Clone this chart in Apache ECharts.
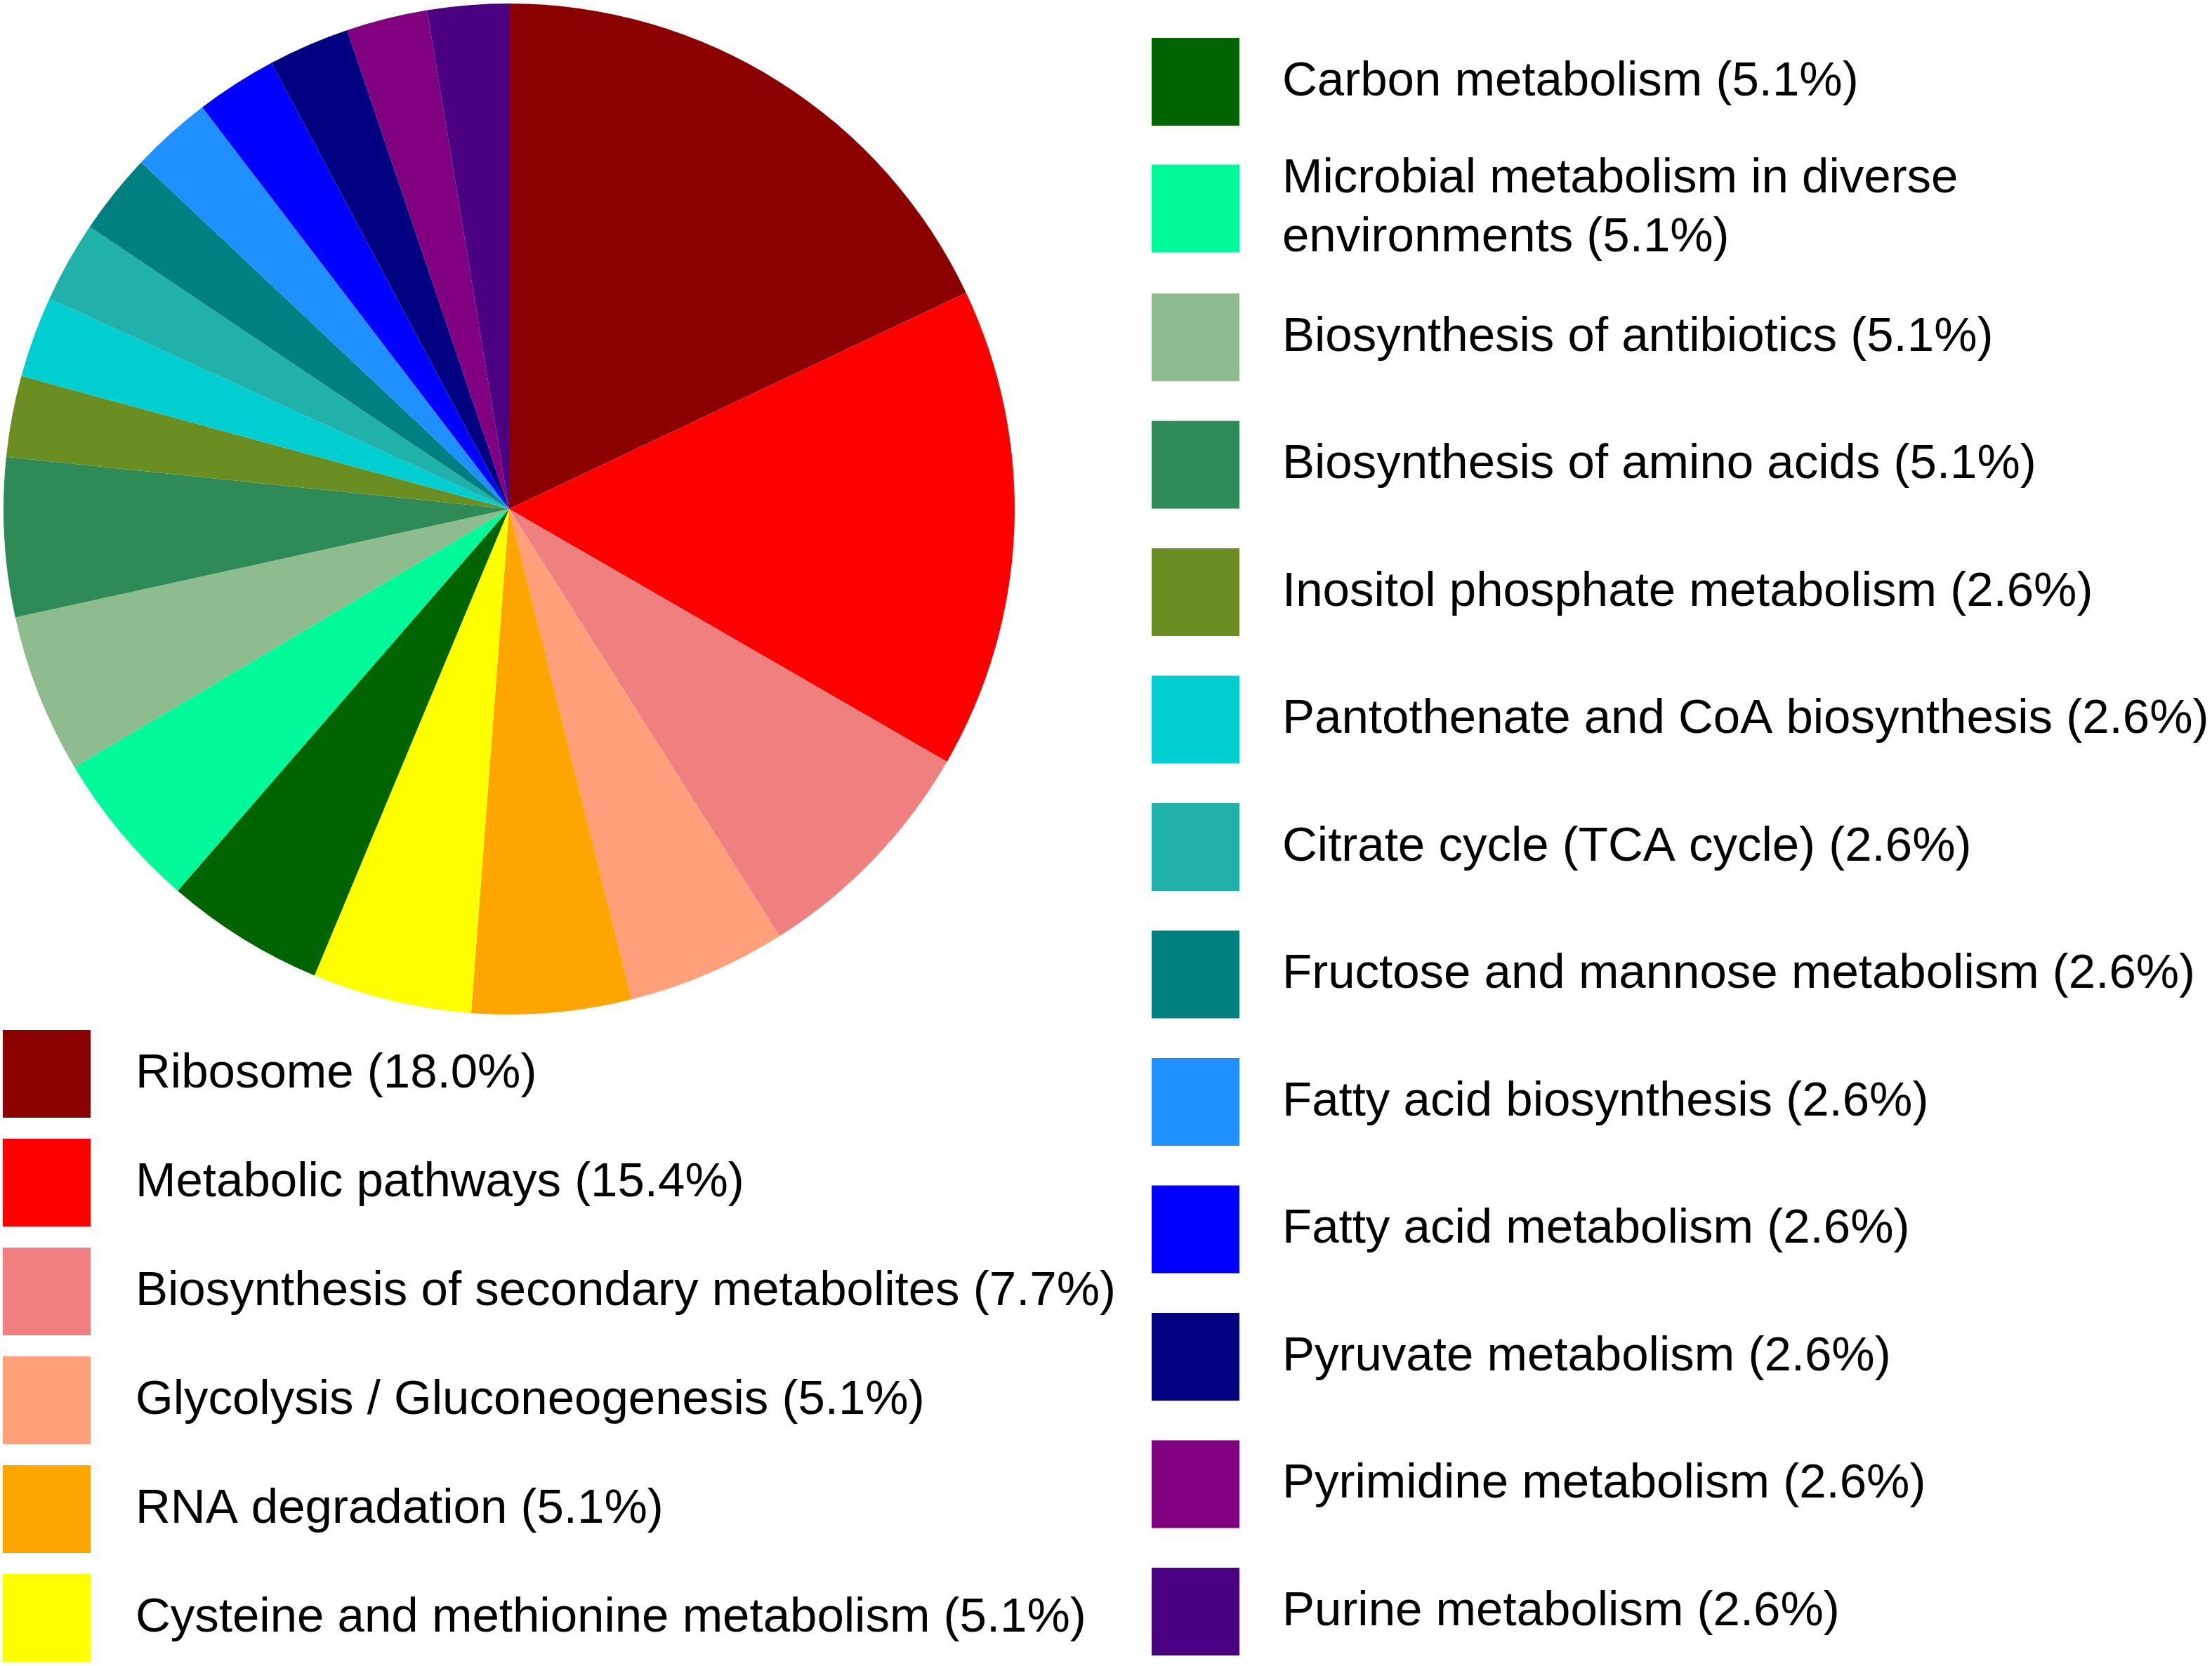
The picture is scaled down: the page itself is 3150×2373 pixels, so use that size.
<!DOCTYPE html>
<html>
<head>
<meta charset="utf-8">
<script src="https://cdn.jsdelivr.net/npm/echarts@6/dist/echarts.min.js"></script>
<style>
html,body{margin:0;padding:0;background:#fff;}
#chart{width:3150px;height:2373px;}
</style>
</head>
<body>
<div id="chart"></div>
<script>
const categories = [
  "Ribosome",
  "Metabolic pathways",
  "Biosynthesis of secondary metabolites",
  "Glycolysis / Gluconeogenesis",
  "RNA degradation",
  "Cysteine and methionine metabolism",
  "Carbon metabolism",
  "Microbial metabolism in diverse environments",
  "Biosynthesis of antibiotics",
  "Biosynthesis of amino acids",
  "Inositol phosphate metabolism",
  "Pantothenate and CoA biosynthesis",
  "Citrate cycle (TCA cycle)",
  "Fructose and mannose metabolism",
  "Fatty acid biosynthesis",
  "Fatty acid metabolism",
  "Pyruvate metabolism",
  "Pyrimidine metabolism",
  "Purine metabolism"
];
const percents = [18.0, 15.4, 7.7, 5.1, 5.1, 5.1, 5.1, 5.1, 5.1, 5.1, 2.6, 2.6, 2.6, 2.6, 2.6, 2.6, 2.6, 2.6, 2.6];
const colors = [
  "#8B0000", "#FF0000", "#F08080", "#FFA07A", "#FFA500", "#FFFF00",
  "#006400", "#00FA9A", "#8FBC8F", "#2E8B57", "#6B8E23", "#00CED1",
  "#20B2AA", "#008080", "#1E90FF", "#0000FF", "#000080", "#800080", "#4B0082"
];

const pctByName = {};
categories.forEach((c, i) => { pctByName[c] = percents[i]; });

const fontFamily = '"Liberation Sans", Arial, Helvetica, sans-serif';
const fmt = name => name + ' (' + pctByName[name].toFixed(1) + '%)';

const baseText = { fontSize: 69, color: '#000', fontFamily: fontFamily, padding: [0, 0, 0, 56] };
const baseLegend = {
  type: 'plain',
  orient: 'vertical',
  icon: 'rect',
  itemWidth: 125,
  itemHeight: 125,
  padding: 0,
  height: 2373,
  selectedMode: false,
  formatter: fmt,
  textStyle: baseText
};

const option = {
  backgroundColor: '#fff',
  animation: false,
  color: colors,
  legend: [
    Object.assign({}, baseLegend, {
      left: 4, top: 1467, itemGap: 30,
      data: categories.slice(0, 6),
      textStyle: Object.assign({}, baseText, { padding: [0, 0, 0, 59] })
    }),
    Object.assign({}, baseLegend, {
      left: 1640, top: 54, itemGap: 56.5,
      data: categories.slice(6, 7)
    }),
    Object.assign({}, baseLegend, {
      left: 1640, top: 207, itemGap: 56.5,
      data: categories.slice(7, 8),
      textStyle: Object.assign({}, baseText, {
        padding: [12, 0, 0, 56], width: 1050, overflow: 'break', lineHeight: 84
      })
    }),
    Object.assign({}, baseLegend, {
      left: 1640, top: 418, itemGap: 56.5,
      data: categories.slice(8)
    })
  ],
  series: [{
    type: 'pie',
    center: [725, 725],
    radius: [0, 720],
    startAngle: 90,
    clockwise: true,
    label: { show: false },
    labelLine: { show: false },
    emphasis: { disabled: true },
    itemStyle: { borderWidth: 0 },
    data: categories.map((c, i) => ({ name: c, value: percents[i] }))
  }]
};

const chart = echarts.init(document.getElementById('chart'), null, { renderer: 'canvas' });
chart.setOption(option);
</script>
</body>
</html>
